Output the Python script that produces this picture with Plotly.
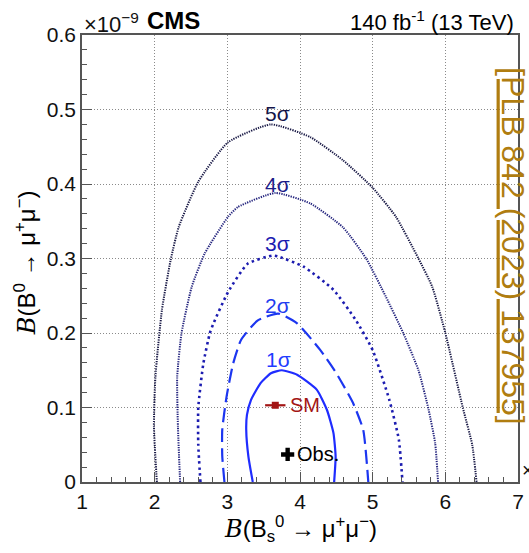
import plotly.graph_objects as go

# ---------------- data ----------------
c1_x = [3.35, 3.29, 3.26, 3.27, 3.325, 3.46, 3.60, 3.75, 3.96, 4.23, 4.37, 4.46, 4.49, 4.47]
c1_y = [0.0, 0.034, 0.07, 0.09, 0.11, 0.133, 0.146, 0.150, 0.144, 0.124, 0.097, 0.066, 0.034, 0.0]

c2_x = [2.96, 2.93, 2.93, 2.99, 3.08, 3.19, 3.42, 3.70, 3.96, 4.28, 4.50, 4.73, 4.87, 4.94]
c2_y = [0.0, 0.035, 0.07, 0.115, 0.159, 0.191, 0.217, 0.226, 0.213, 0.177, 0.146, 0.106, 0.07, 0.0]

c3_x = [2.63, 2.60, 2.60, 2.67, 2.76, 2.81, 3.01, 3.28, 3.62, 3.69, 4.05, 4.46, 4.77, 5.00, 5.23, 5.36, 5.41]
c3_y = [0.0, 0.05, 0.10, 0.159, 0.20, 0.213, 0.255, 0.293, 0.304, 0.303, 0.289, 0.258, 0.217, 0.177, 0.11, 0.057, 0.0]

c4_x = [2.35, 2.32, 2.31, 2.37, 2.51, 2.69, 3.01, 3.145, 3.66, 4.14, 4.59, 4.91, 5.18, 5.42, 5.63, 5.77, 5.86, 5.90]
c4_y = [0.0, 0.075, 0.141, 0.20, 0.262, 0.307, 0.356, 0.369, 0.388, 0.374, 0.342, 0.30, 0.249, 0.20, 0.150, 0.097, 0.052, 0.0]

c5_x = [2.03, 1.99, 2.01, 2.10, 2.22, 2.33, 2.60, 3.01, 3.60, 4.14, 4.59, 5.00, 5.32, 5.63, 5.82, 6.00, 6.24, 6.37, 6.43]
c5_y = [0.0, 0.075, 0.141, 0.231, 0.298, 0.342, 0.403, 0.456, 0.480, 0.463, 0.432, 0.395, 0.356, 0.30, 0.262, 0.20, 0.10, 0.05, 0.0]

sigma_labels = ["1σ", "2σ", "3σ", "4σ", "5σ"]
sigma_label_x = [3.71, 3.69, 3.69, 3.69, 3.69]
sigma_label_y = [0.164, 0.237, 0.32, 0.40, 0.495]

sm_x, sm_y, sm_xerr = [3.66], [0.103], [0.14]
obs_x, obs_y = [3.83], [0.037]

x_ticks = [1, 2, 3, 4, 5, 6, 7]
y_ticks = [0, 0.1, 0.2, 0.3, 0.4, 0.5, 0.6]
y_ticktext = ["0", "0.1", "0.2", "0.3", "0.4", "0.5", "0.6"]

# ---------------- styles ----------------
FONT = "Liberation Sans, Arial, sans-serif"
styles = [
    dict(color="#1f2cff", width=2.2, dash="solid"),
    dict(color="#1c36f0", width=2.2, dash="14px,6px"),
    dict(color="#1c1cb0", width=2.6, dash="2.5px,3.5px"),
    dict(color="#26267f", width=2.0, dash="1.3px,1.1px"),
    dict(color="#181845", width=2.0, dash="1.3px,1.1px"),
]
label_colors = ["#1f3cff", "#1f3cf0", "#1c1cb0", "#1c1c88", "#15154a"]
contours = [(c1_x, c1_y), (c2_x, c2_y), (c3_x, c3_y), (c4_x, c4_y), (c5_x, c5_y)]

fig = go.Figure()
for (cx, cy), st in zip(contours, styles):
    fig.add_trace(go.Scatter(x=cx, y=cy, mode="lines", line=dict(shape="spline", smoothing=0.5, **st),
                             hoverinfo="skip", showlegend=False))

fig.add_trace(go.Scatter(x=sm_x, y=sm_y, mode="markers",
                         marker=dict(symbol="square", size=7, color="#a31515"),
                         error_x=dict(type="data", array=sm_xerr, color="#a31515", thickness=2.2, width=0),
                         showlegend=False))
fig.add_trace(go.Scatter(x=obs_x, y=obs_y, mode="markers",
                         marker=dict(symbol="cross", size=11, color="black"),
                         showlegend=False))

ann = []
for t, lx, ly, col in zip(sigma_labels, sigma_label_x, sigma_label_y, label_colors):
    ann.append(dict(x=lx, y=ly, xref="x", yref="y", text=t, showarrow=False,
                    font=dict(family=FONT, size=21, color=col), xanchor="center", yanchor="middle"))
ann.append(dict(x=sm_x[0] + 0.18, y=sm_y[0], xref="x", yref="y", text="SM", showarrow=False,
                font=dict(family=FONT, size=20, color="#a31515"), xanchor="left", yanchor="middle"))
ann.append(dict(x=obs_x[0] + 0.1, y=obs_y[0], xref="x", yref="y", text="Obs.", showarrow=False,
                font=dict(family=FONT, size=20, color="black"), xanchor="left", yanchor="middle"))

# header texts
ann.append(dict(x=0.0, y=1.026, xref="paper", yref="paper", text="×10<sup>−9</sup>", showarrow=False,
                font=dict(family=FONT, size=22, color="#111"), xanchor="left", yanchor="middle"))
ann.append(dict(x=0.145, y=1.033, xref="paper", yref="paper", text="<b>CMS</b>", showarrow=False,
                font=dict(family=FONT, size=24, color="black"), xanchor="left", yanchor="middle"))
ann.append(dict(x=0.995, y=1.031, xref="paper", yref="paper", text="140 fb<sup>-1</sup> (13 TeV)",
                showarrow=False, font=dict(family=FONT, size=22, color="black"),
                xanchor="right", yanchor="middle"))
# x-axis exponent (clipped at the page edge, as in the reference)
ann.append(dict(x=1.005, y=0.03, xref="paper", yref="paper", text="×10<sup>−9</sup>", showarrow=False,
                font=dict(family=FONT, size=20, color="#111"), xanchor="left", yanchor="middle"))

# axis titles
ann.append(dict(x=0.5, y=-0.105, xref="paper", yref="paper",
                text="<span style='font-family:DejaVu Serif'><i>B</i></span>(B<sub>s</sub><sup>0</sup> → μ<sup>+</sup>μ<sup>−</sup>)",
                showarrow=False, font=dict(family=FONT, size=24, color="black"),
                xanchor="center", yanchor="middle"))
ann.append(dict(x=-0.128, y=0.49, xref="paper", yref="paper", textangle=-90,
                text="<span style='font-family:DejaVu Serif'><i>B</i></span>(B<sup>0</sup> → μ<sup>+</sup>μ<sup>−</sup>)",
                showarrow=False, font=dict(family=FONT, size=24, color="black"),
                xanchor="center", yanchor="middle"))

# journal reference
ann.append(dict(x=0.987, y=0.527, xref="paper", yref="paper", textangle=90,
                text="<u>[PLB 842 (2023) 137955]</u>", showarrow=False,
                font=dict(family=FONT, size=32, color="#b07d10"),
                xanchor="center", yanchor="middle"))

axis_common = dict(
    showline=True, linecolor="#555", linewidth=1.5, mirror=True,
    ticks="inside", ticklen=10, tickwidth=1, tickcolor="#555",
    showgrid=True, gridcolor="#8a8a8a", griddash="1px,2px", gridwidth=1,
    zeroline=False, tickfont=dict(family=FONT, size=21, color="#111"),
)

fig.update_layout(
    width=529, height=553,
    margin=dict(l=82, r=5, t=35, b=71),
    plot_bgcolor="white", paper_bgcolor="white",
    xaxis=dict(range=[1, 7], tickmode="array", tickvals=x_ticks, ticktext=[str(v) for v in x_ticks],
               minor=dict(dtick=0.2, ticks="inside", ticklen=5, tickcolor="#555", showgrid=False),
               **axis_common),
    yaxis=dict(range=[0, 0.6], tickmode="array", tickvals=y_ticks, ticktext=y_ticktext,
               minor=dict(dtick=0.02, ticks="inside", ticklen=5, tickcolor="#555", showgrid=False),
               **axis_common),
    annotations=ann,
    showlegend=False,
)

fig.write_html("out.html")
